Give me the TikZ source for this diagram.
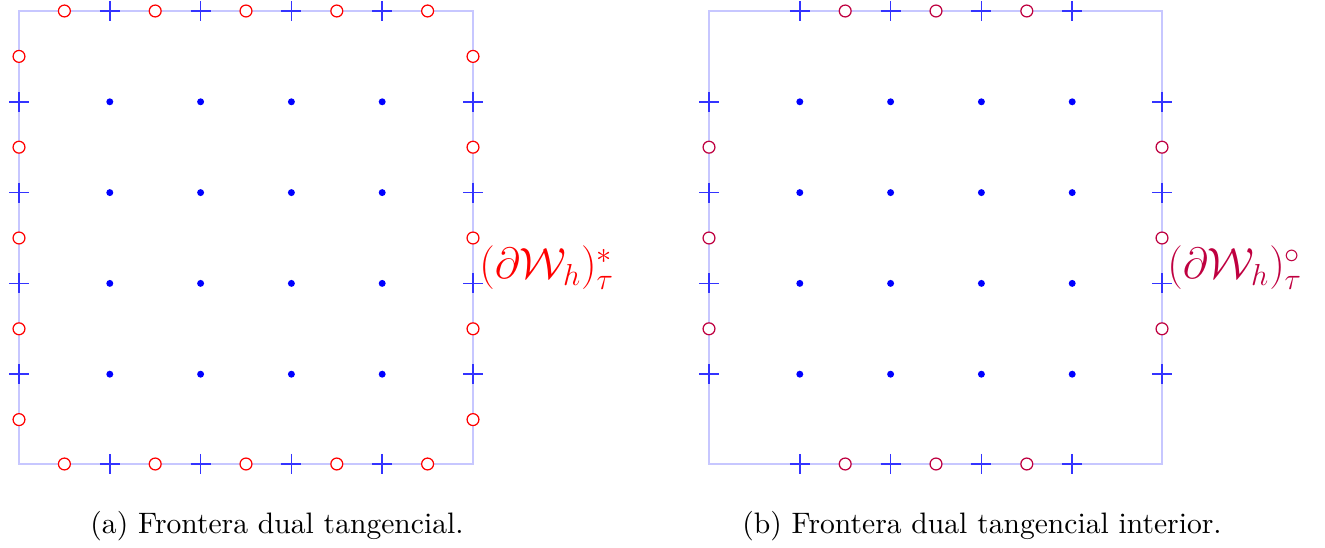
\documentclass[tikz,border=0pt]{standalone}
\begin{document}
\begin{tikzpicture}[x=0.446pt,y=-0.446pt,
  frame/.style={draw=blue!22,line width=0.9pt},
  ring/.style={circle,draw=#1,fill=white,line width=0.55pt,minimum size=5.3pt,inner sep=0pt},
  dotmark/.style={circle,fill=blue,minimum size=3.1pt,inner sep=0pt},
  pics/plusmark/.style={code={\draw[blue!80,line width=0.7pt] (-10,0)--(10,0) (0,-10)--(0,10);}},
  lbl/.style={anchor=west,font=\huge,scale=0.94},
  captext/.style={font=\normalsize,scale=1.32}]
\useasboundingbox (0,0) rectangle (1325,548);
\def\s{90.8}
% ---------- (a)
\draw[frame] (19,11) rectangle (473,464);
\foreach \i in {1,...,4}{
  \foreach \j in {1,...,4}{ \node[dotmark] (ad\i\j) at ({19+\i*\s},{11+\j*\s}) {}; }
  \pic at ({19+\i*\s},11) {plusmark};
  \pic at ({19+\i*\s},464) {plusmark};
  \pic at (19,{11+\i*\s}) {plusmark};
  \pic at (473,{11+\i*\s}) {plusmark};
}
\foreach \k in {0,...,4}{
  \node[ring=red] (at\k) at ({19+(\k+0.5)*\s},11) {};
  \node[ring=red] (ab\k) at ({19+(\k+0.5)*\s},464) {};
  \node[ring=red] (al\k) at (19,{11+(\k+0.5)*\s}) {};
  \node[ring=red] (ar\k) at (473,{11+(\k+0.5)*\s}) {};
}
\node[lbl,text=red] (la) at (472,268) {$(\partial\mathcal{W}_h)^*_\tau$};
\node[captext] (ca) at (277,526) {(a) Frontera dual tangencial.};
% ---------- (b)
\draw[frame] (709,11) rectangle (1162,464);
\foreach \i in {1,...,4}{
  \foreach \j in {1,...,4}{ \node[dotmark] (bd\i\j) at ({709+\i*\s},{11+\j*\s}) {}; }
  \pic at ({709+\i*\s},11) {plusmark};
  \pic at ({709+\i*\s},464) {plusmark};
  \pic at (709,{11+\i*\s}) {plusmark};
  \pic at (1162,{11+\i*\s}) {plusmark};
}
\foreach \k in {1,...,3}{
  \node[ring=purple] (bt\k) at ({709+(\k+0.5)*\s},11) {};
  \node[ring=purple] (bb\k) at ({709+(\k+0.5)*\s},464) {};
  \node[ring=purple] (bl\k) at (709,{11+(\k+0.5)*\s}) {};
  \node[ring=purple] (br\k) at (1162,{11+(\k+0.5)*\s}) {};
}
\node[lbl,text=purple] (lb) at (1160,268) {$(\partial\mathcal{W}_h)^\circ_\tau$};
\node[captext] (cb) at (982,526) {(b) Frontera dual tangencial interior.};
\end{tikzpicture}
\end{document}
